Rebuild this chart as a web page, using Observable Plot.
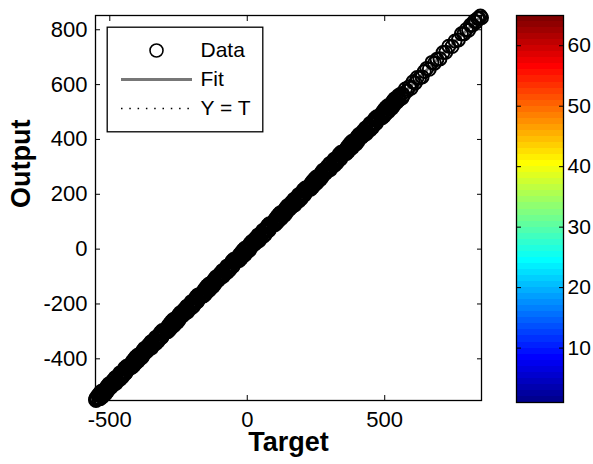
<!DOCTYPE html>
<html><head><meta charset="utf-8">
<script src="https://cdn.jsdelivr.net/npm/d3@7"></script>
<script src="https://cdn.jsdelivr.net/npm/@observablehq/plot@0.6"></script>
<style>
body{margin:0;background:#fff;}
#wrap{position:relative;width:593px;height:464px;font-family:"Liberation Sans",Arial,sans-serif;background:#fff;}
#wrap svg{position:absolute;overflow:visible;}
</style></head><body><div id="wrap"></div>
<script>
// ---- data ----
const targets = [
-552,-550,-548,
-549,-535,-536,-536,-523,-514,-518,-509,-510,-496,-497,-487,-490,
-476,-481,-468,-468,-454,-459,-451,-440,-446,-433,-433,-419,-422,
-419,-405,-406,-406,-393,-384,-388,-379,-380,-366,-367,-357,-360,
-346,-351,-338,-338,-324,-329,-321,-310,-316,-303,-303,-289,-292,
-289,-275,-276,-276,-263,-254,-258,-249,-250,-236,-237,-227,-230,
-216,-221,-208,-208,-194,-199,-191,-180,-186,-173,-173,-159,-162,
-159,-145,-146,-146,-133,-124,-128,-119,-120,-106,-107,-97,-100,
-86,-91,-78,-78,-64,-69,-61,-50,-56,-43,-43,-29,-32,
-29,-15,-16,-16,-3,6,2,11,10,24,23,33,30,
44,39,52,52,66,61,69,80,74,87,87,101,98,
101,115,114,114,127,136,132,141,140,154,153,163,160,
174,169,182,182,196,191,199,210,204,217,217,231,228,
231,245,244,244,257,266,262,271,270,284,283,293,290,
304,299,312,312,326,321,329,340,334,347,347,361,358,
361,375,374,374,387,396,392,401,400,414,413,423,420,
434,429,442,442,456,451,459,470,464,477,477,491,488,
491,505,504,504,517,526,522,531,530,544,543,553,550,
-540,-543,-527,-529,-529,-516,-508,-512,-503,-504,-489,-490,-477,
-475,-478,-462,-464,-464,-451,-443,-447,-438,-439,-424,-425,-412,
-410,-413,-397,-399,-399,-386,-378,-382,-373,-374,-359,-360,-347,
-345,-348,-332,-334,-334,-321,-313,-317,-308,-309,-294,-295,-282,
-280,-283,-267,-269,-269,-256,-248,-252,-243,-244,-229,-230,-217,
-215,-218,-202,-204,-204,-191,-183,-187,-178,-179,-164,-165,-152,
-150,-153,-137,-139,-139,-126,-118,-122,-113,-114,-99,-100,-87,
-85,-88,-72,-74,-74,-61,-53,-57,-48,-49,-34,-35,-22,
-20,-23,-7,-9,-9,4,12,8,17,16,31,30,43,
45,42,58,56,56,69,77,73,82,81,96,95,108,
110,107,123,121,121,134,142,138,147,146,161,160,173,
175,172,188,186,186,199,207,203,212,211,226,225,238,
240,237,253,251,251,264,272,268,277,276,291,290,303,
305,302,318,316,316,329,337,333,342,341,356,355,368,
370,367,383,381,381,394,402,398,407,406,421,420,433,
435,432,448,446,446,459,467,463,472,471,486,485,498,
500,497,513,511,511,524,532,528,537,536,551,550,563,
562,568,575,581,589,596,603,611,618,627,636,644,653,662,672,681,690,701,
712,722,733,745,756,768,779,788,797,805,812,819,826,832,838,843,848,852
];
const outputs = [
-549,-552,-545,
-541,-545,-534,-524,-527,-526,-512,-511,-500,-504,-493,-493,-480,
-484,-469,-472,-462,-466,-451,-449,-450,-434,-437,-427,-431,-418,
-411,-415,-404,-394,-397,-396,-382,-381,-370,-374,-363,-363,-350,
-354,-339,-342,-332,-336,-321,-319,-320,-304,-307,-297,-301,-288,
-281,-285,-274,-264,-267,-266,-252,-251,-240,-244,-233,-233,-220,
-224,-209,-212,-202,-206,-191,-189,-190,-174,-177,-167,-171,-158,
-151,-155,-144,-134,-137,-136,-122,-121,-110,-114,-103,-103,-90,
-94,-79,-82,-72,-76,-61,-59,-60,-44,-47,-37,-41,-28,
-21,-25,-14,-4,-7,-6,8,9,20,16,27,27,40,
36,51,48,58,54,69,71,70,86,83,93,89,102,
109,105,116,126,123,124,138,139,150,146,157,157,170,
166,181,178,188,184,199,201,200,216,213,223,219,232,
239,235,246,256,253,254,268,269,280,276,287,287,300,
296,311,308,318,314,329,331,330,346,343,353,349,362,
369,365,376,386,383,384,398,399,410,406,417,417,430,
426,441,438,448,444,459,461,460,476,473,483,479,492,
499,495,506,516,513,514,528,529,540,536,547,547,560,
-546,-533,-539,-527,-517,-520,-518,-504,-503,-492,-497,-486,-489,
-481,-468,-474,-462,-452,-455,-453,-439,-438,-427,-432,-421,-424,
-416,-403,-409,-397,-387,-390,-388,-374,-373,-362,-367,-356,-359,
-351,-338,-344,-332,-322,-325,-323,-309,-308,-297,-302,-291,-294,
-286,-273,-279,-267,-257,-260,-258,-244,-243,-232,-237,-226,-229,
-221,-208,-214,-202,-192,-195,-193,-179,-178,-167,-172,-161,-164,
-156,-143,-149,-137,-127,-130,-128,-114,-113,-102,-107,-96,-99,
-91,-78,-84,-72,-62,-65,-63,-49,-48,-37,-42,-31,-34,
-26,-13,-19,-7,3,0,2,16,17,28,23,34,31,
39,52,46,58,68,65,67,81,82,93,88,99,96,
104,117,111,123,133,130,132,146,147,158,153,164,161,
169,182,176,188,198,195,197,211,212,223,218,229,226,
234,247,241,253,263,260,262,276,277,288,283,294,291,
299,312,306,318,328,325,327,341,342,353,348,359,356,
364,377,371,383,393,390,392,406,407,418,413,424,421,
429,442,436,448,458,455,457,471,472,483,478,489,486,
494,507,501,513,523,520,522,536,537,548,543,554,551,
568,561,584,577,592,587,610,606,626,625,628,648,659,656,681,678,692,694,
717,718,740,739,759,763,785,785,801,798,817,817,832,828,841,842,850,844
];
const axisLimits = [-552, 852];
const xTicks = [-500, 0, 500];
const yTicks = [-400, -200, 0, 200, 400, 600, 800];
const xLabel = "Target";
const yLabel = "Output";
const legendLabels = ["Data", "Fit", "Y = T"];
const colorLimits = [1, 65];
const colorTicks = [10, 20, 30, 40, 50, 60];
const colorLevels = d3.range(1, 65); // 64 colormap rows

// MATLAB jet colormap row k of m
function jet(k, m = 64) {
  const n = Math.ceil(m / 4);
  const u = [...d3.range(1, n + 1).map(i => i / n), ...Array(n - 1).fill(1), ...d3.range(n, 0, -1).map(i => i / n)];
  const g0 = Math.ceil(n / 2) - (m % 4 === 1 ? 1 : 0);
  const at = j => (j >= 0 && j < u.length) ? u[j] : 0;
  return d3.rgb(at(k - g0 - n - 1) * 255, at(k - g0 - 1) * 255, at(k - g0 + n - 1) * 255).formatHex();
}

const FONT = '"Liberation Sans", Arial, sans-serif';
const fmt = d => String(d);
const data = targets.map((t, i) => ({t, o: outputs[i]}));
const identityLine = axisLimits.map(v => ({t: v, o: v}));

const main = Plot.plot({
  width: 500, height: 464,
  marginLeft: 95, marginRight: 19, marginTop: 15, marginBottom: 64,
  style: {fontFamily: FONT, fontSize: "22px", color: "#000", background: "transparent", overflow: "visible"},
  x: {domain: axisLimits, ticks: xTicks},
  y: {domain: axisLimits, ticks: yTicks},
  marks: [
    Plot.line(identityLine, {x: "t", y: "o", stroke: "#000", strokeWidth: 1.3, strokeDasharray: "1.5,6.8"}),
    Plot.linearRegressionY(data, {x: "t", y: "o", stroke: "#777", strokeWidth: 3, ci: 0}),
    Plot.dot(data, {x: "t", y: "o", r: 6.5, stroke: "#000", strokeWidth: 2}),
    Plot.frame({stroke: "#000", strokeWidth: 1.3}),
    Plot.axisX(xTicks, {anchor: "bottom", tickSize: 5, dy: -5, fill: "none", label: null}),
    Plot.axisX(xTicks, {anchor: "top", tickSize: 5, dy: 5, fill: "none", label: null}),
    Plot.axisY(yTicks, {anchor: "left", tickSize: 5, dx: 5, fill: "none", label: null}),
    Plot.axisY(yTicks, {anchor: "right", tickSize: 5, dx: -5, fill: "none", label: null}),
    Plot.axisX(xTicks, {anchor: "bottom", tickSize: 0, tickPadding: 11, label: null, tickFormat: fmt}),
    Plot.axisY(yTicks, {anchor: "left", tickSize: 0, tickPadding: 8, label: null, tickFormat: fmt}),
    Plot.text([xLabel], {frameAnchor: "bottom", dy: 50, fontSize: 27, fontWeight: "bold"}),
    Plot.text([yLabel], {frameAnchor: "left", dx: -74, rotate: -90, fontSize: 27, fontWeight: "bold"})
  ]
});
main.style.left = "0px"; main.style.top = "0px";

const cbar = Plot.plot({
  width: 93, height: 464,
  marginLeft: 16, marginRight: 30, marginTop: 15, marginBottom: 62,
  style: {fontFamily: FONT, fontSize: "21px", color: "#000", background: "transparent", overflow: "visible"},
  y: {domain: colorLimits, ticks: colorTicks},
  color: {type: "identity"},
  marks: [
    Plot.rect(colorLevels, {y1: d => d, y2: d => d + 1, fill: d => jet(d), shapeRendering: "crispEdges"}),
    Plot.frame({stroke: "#000", strokeWidth: 1.3}),
    Plot.axisY(colorTicks, {anchor: "left", tickSize: 5, dx: 5, fill: "none", label: null}),
    Plot.axisY(colorTicks, {anchor: "right", tickSize: 5, dx: -5, fill: "none", label: null}),
    Plot.axisY(colorTicks, {anchor: "right", tickSize: 0, tickPadding: 4, label: null, tickFormat: fmt})
  ]
});
cbar.style.left = "500px"; cbar.style.top = "0px";

const legend = Plot.plot({
  width: 157, height: 106,
  margin: 0,
  style: {fontFamily: FONT, fontSize: "21px", color: "#000", background: "#fff", overflow: "visible"},
  y: {type: "point", domain: legendLabels, range: [23.5, 83], padding: 0, axis: null},
  marks: [
    Plot.frame({stroke: "#000", strokeWidth: 1.3, inset: 0.7}),
    Plot.dot([legendLabels[0]], {y: d => d, frameAnchor: "left", dx: 50, r: 6.5, stroke: "#000", strokeWidth: 1.6}),
    Plot.ruleY([legendLabels[1]], {y: d => d, insetLeft: 15, insetRight: 71, stroke: "#777", strokeWidth: 3}),
    Plot.ruleY([legendLabels[2]], {y: d => d, insetLeft: 15, insetRight: 71, stroke: "#000", strokeWidth: 1.4, strokeDasharray: "1.5,6.8"}),
    Plot.text(legendLabels, {y: d => d, frameAnchor: "left", dx: 94, textAnchor: "start"})
  ]
});
legend.style.left = "106px"; legend.style.top = "26px";

const wrap = document.getElementById("wrap");
wrap.append(main, cbar, legend);
</script></body></html>
